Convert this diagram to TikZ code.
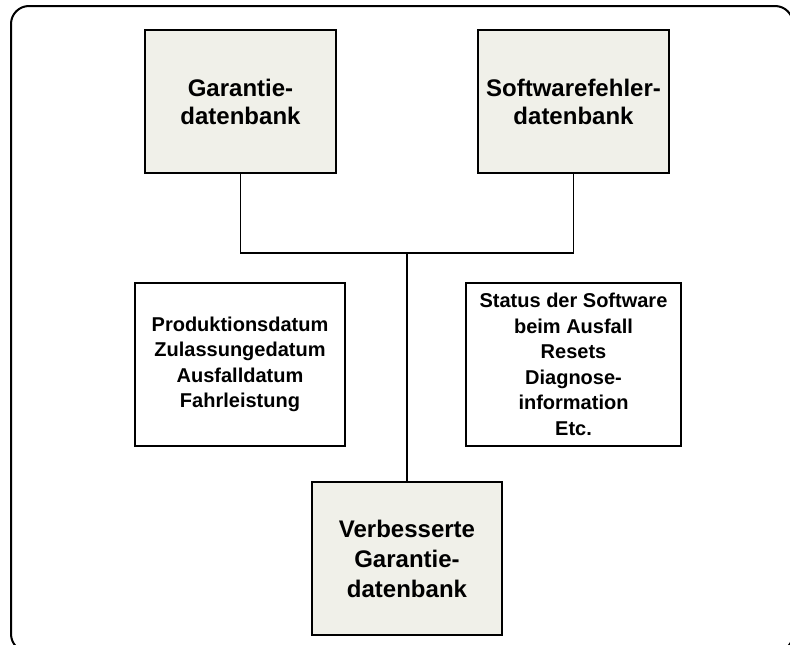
\documentclass[tikz,border=0pt]{standalone}
\usepackage{fontspec}
\setmainfont{Liberation Sans}
\usepackage{tikz}
\usetikzlibrary{positioning}

\definecolor{dbfill}{RGB}{240,240,233}

\begin{document}
\begin{tikzpicture}[x=1pt,y=-1pt,
  every node/.style={align=center,inner sep=0pt,font=\bfseries},
  dbbox/.style={draw,line width=1.4pt,fill=dbfill,minimum width=191pt,minimum height=143pt,font=\bfseries\fontsize{24}{28}\selectfont},
  infobox/.style={draw,line width=1.4pt,fill=white,minimum height=163pt,font=\bfseries\fontsize{20}{25.5}\selectfont},
  link/.style={line width=1.4pt}]
  \useasboundingbox (0,0) rectangle (790,645);
  \draw[line width=2pt,rounded corners=18pt] (11,6) rectangle (793,652);

  \node[dbbox] (gar) at (240.5,101.5) {Garantie-\\datenbank};
  \node[dbbox] (swf) at (573.5,101.5) {Softwarefehler-\\datenbank};

  \node[infobox,minimum width=210pt] (gardaten) at (240,364.5) {Produktionsdatum\\Zulassungedatum\\Ausfalldatum\\Fahrleistung};
  \node[infobox,minimum width=215pt] (swfdaten) at (573.5,364.5) {Status der Software\\beim Ausfall\\Resets\\Diagnose-\\information\\Etc.};

  \node[dbbox,minimum width=190pt,minimum height=153pt,font=\bfseries\fontsize{24}{30}\selectfont] (neu) at (407,558.5) {Verbesserte\\Garantie-\\datenbank};

  \coordinate (join) at (407,253);
  \draw[link] (gar.south) |- (join) -| (swf.south);
  \draw[link] (join) -- (neu.north);
\end{tikzpicture}
\end{document}
